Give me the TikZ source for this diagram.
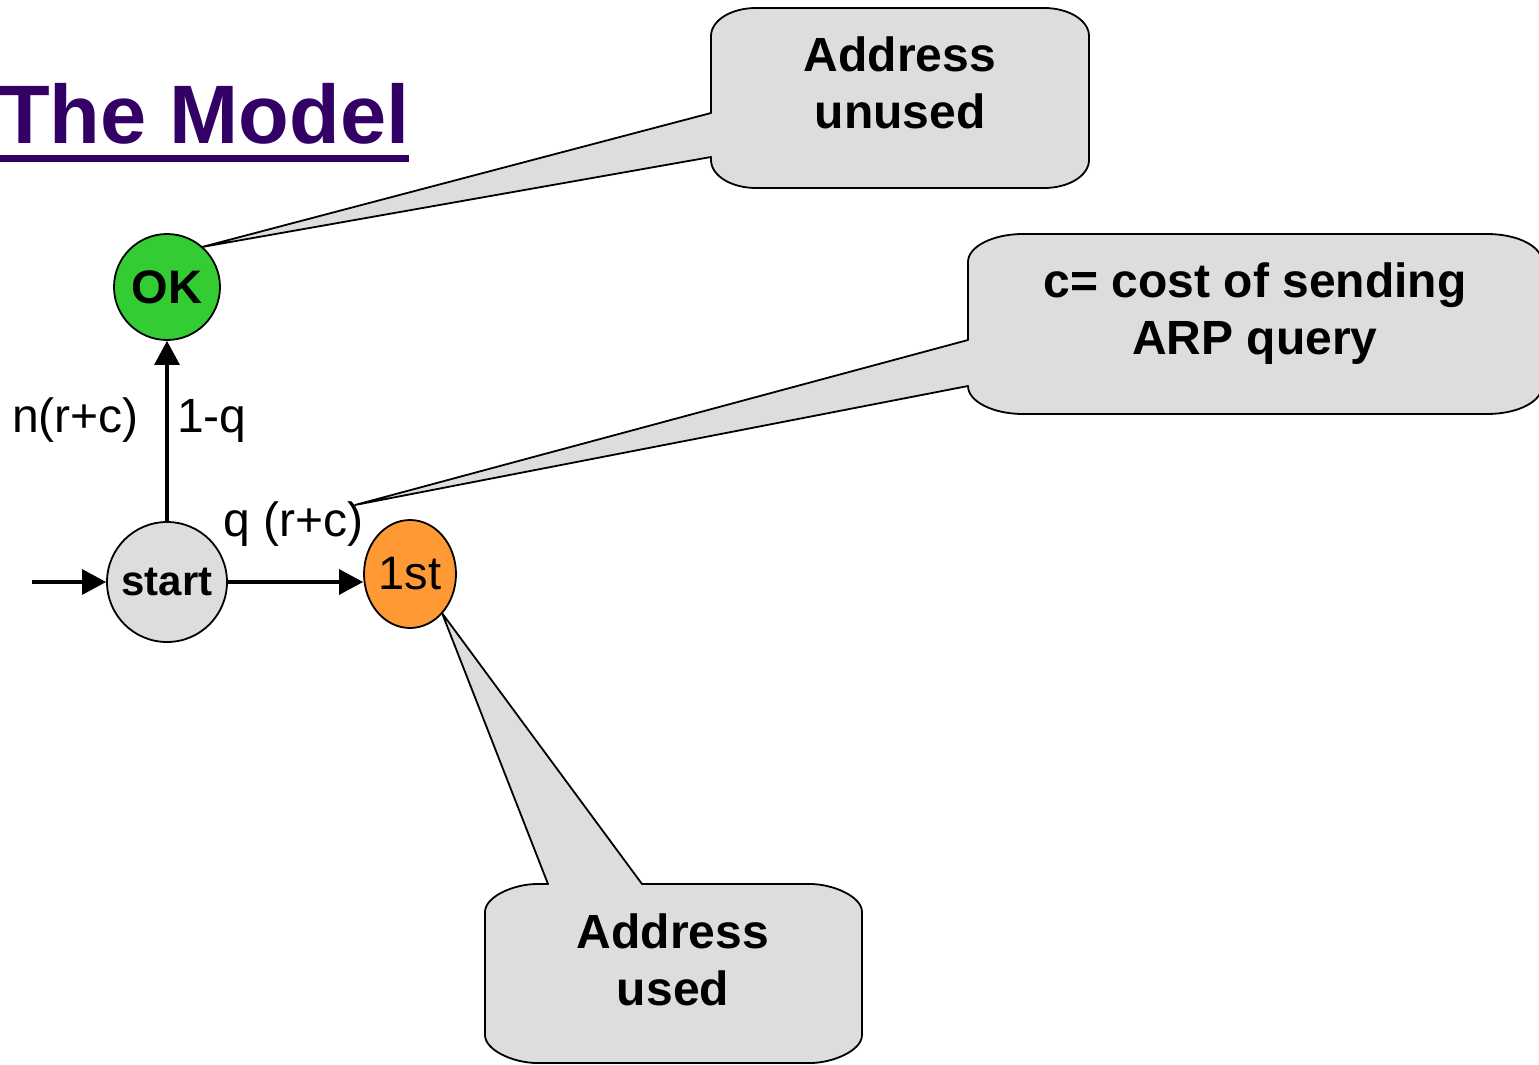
\documentclass[tikz,border=0pt]{standalone}
\usepackage{fontspec}
\setmainfont{Liberation Sans}
\usetikzlibrary{arrows.meta,shapes.geometric}
\definecolor{titlepurple}{HTML}{330066}
\definecolor{okgreen}{HTML}{33CC33}
\definecolor{stategray}{HTML}{DDDDDD}
\definecolor{firstorange}{HTML}{FF9933}
\definecolor{notegray}{HTML}{DDDDDD}
\begin{document}
\begin{tikzpicture}[x=1pt,y=-1pt,
  state/.style={circle,draw=black,line width=1.8pt,inner sep=0pt},
  flow/.style={line width=3.2pt,-{Triangle[length=24pt,width=25pt]}},
  callout/.style={draw=black,fill=notegray,line width=1.8pt,line join=round},
  lbl/.style={inner sep=0pt,font=\fontsize{48}{57}\selectfont},
  note/.style={align=center,inner sep=0pt,font=\bfseries\fontsize{48}{57}\selectfont}]
\useasboundingbox (0,0) rectangle (1539,1065);
\clip (0,0) rectangle (1539,1065);

% title
\node[anchor=base west,inner sep=0pt,text=titlepurple,
      font=\bfseries\fontsize{83}{83}\selectfont] (title) at (-1,143) {The Model};
\fill[titlepurple] (0,155) rectangle (409,162);

% callout tips
\coordinate (tipA) at (202,247);
\coordinate (tipB) at (355,505);
\coordinate (tipC) at (442,613);

% callout: address unused
\draw[callout] (756,8) -- (1044,8) .. controls (1069,8) and (1089,20.5) .. (1089,36)
  -- (1089,160) .. controls (1089,175.5) and (1069,188) .. (1044,188)
  -- (756,188) .. controls (731,188) and (711,175.5) .. (711,160)
  -- (711,157) -- (tipA) -- (711,113)
  -- (711,36) .. controls (711,20.5) and (731,8) .. (756,8) -- cycle;
\node[note] (unused) at (900,83) {Address\\unused};

% callout: cost of ARP query
\draw[callout] (1023,234) -- (1487,234) .. controls (1518,234) and (1542,246.5) .. (1542,262)
  -- (1542,386) .. controls (1542,401.5) and (1518,414) .. (1487,414)
  -- (1023,414) .. controls (993,414) and (968,401.5) .. (968,386)
  -- (tipB) -- (968,340)
  -- (968,262) .. controls (968,246.5) and (993,234) .. (1023,234) -- cycle;
\node[note] (cost) at (1255,314) {c= cost of sending\\ARP query};

% callout: address used
\draw[callout] (537,884) -- (548,884) -- (tipC) -- (642,884)
  -- (810,884) .. controls (833,884) and (862,896.5) .. (862,912)
  -- (862,1035) .. controls (862,1050.5) and (833,1063) .. (810,1063)
  -- (537,1063) .. controls (514,1063) and (485,1050.5) .. (485,1035)
  -- (485,912) .. controls (485,896.5) and (514,884) .. (537,884) -- cycle;
\node[note] (used) at (673,960) {Address\\used};

% states
\node[state,fill=okgreen,minimum size=106pt,font=\bfseries\fontsize{47}{47}\selectfont] (ok) at (167,287) {OK};
\node[state,fill=stategray,minimum size=120pt,font=\bfseries\fontsize{42}{42}\selectfont] (start) at (167,582) {start};
\node[ellipse,draw=black,line width=1.8pt,fill=firstorange,minimum width=92pt,minimum height=108pt,
      inner sep=0pt,font=\fontsize{47}{47}\selectfont] (first) at (410,574) {1st};

% transitions
\coordinate (entry) at (32,582);
\draw[flow] (entry) -- (start);
\draw[flow] (start) -- (ok);
\draw[flow] (start.east) -- (start.east -| first.west);

% transition labels
\node[lbl,anchor=base east] (costup) at (139,432) {n(r+c)};
\node[lbl,anchor=base west] (probup) at (177,432) {1-q};
\node[lbl,anchor=base west] (probright) at (223,536) {q (r+c)};
\end{tikzpicture}
\end{document}
